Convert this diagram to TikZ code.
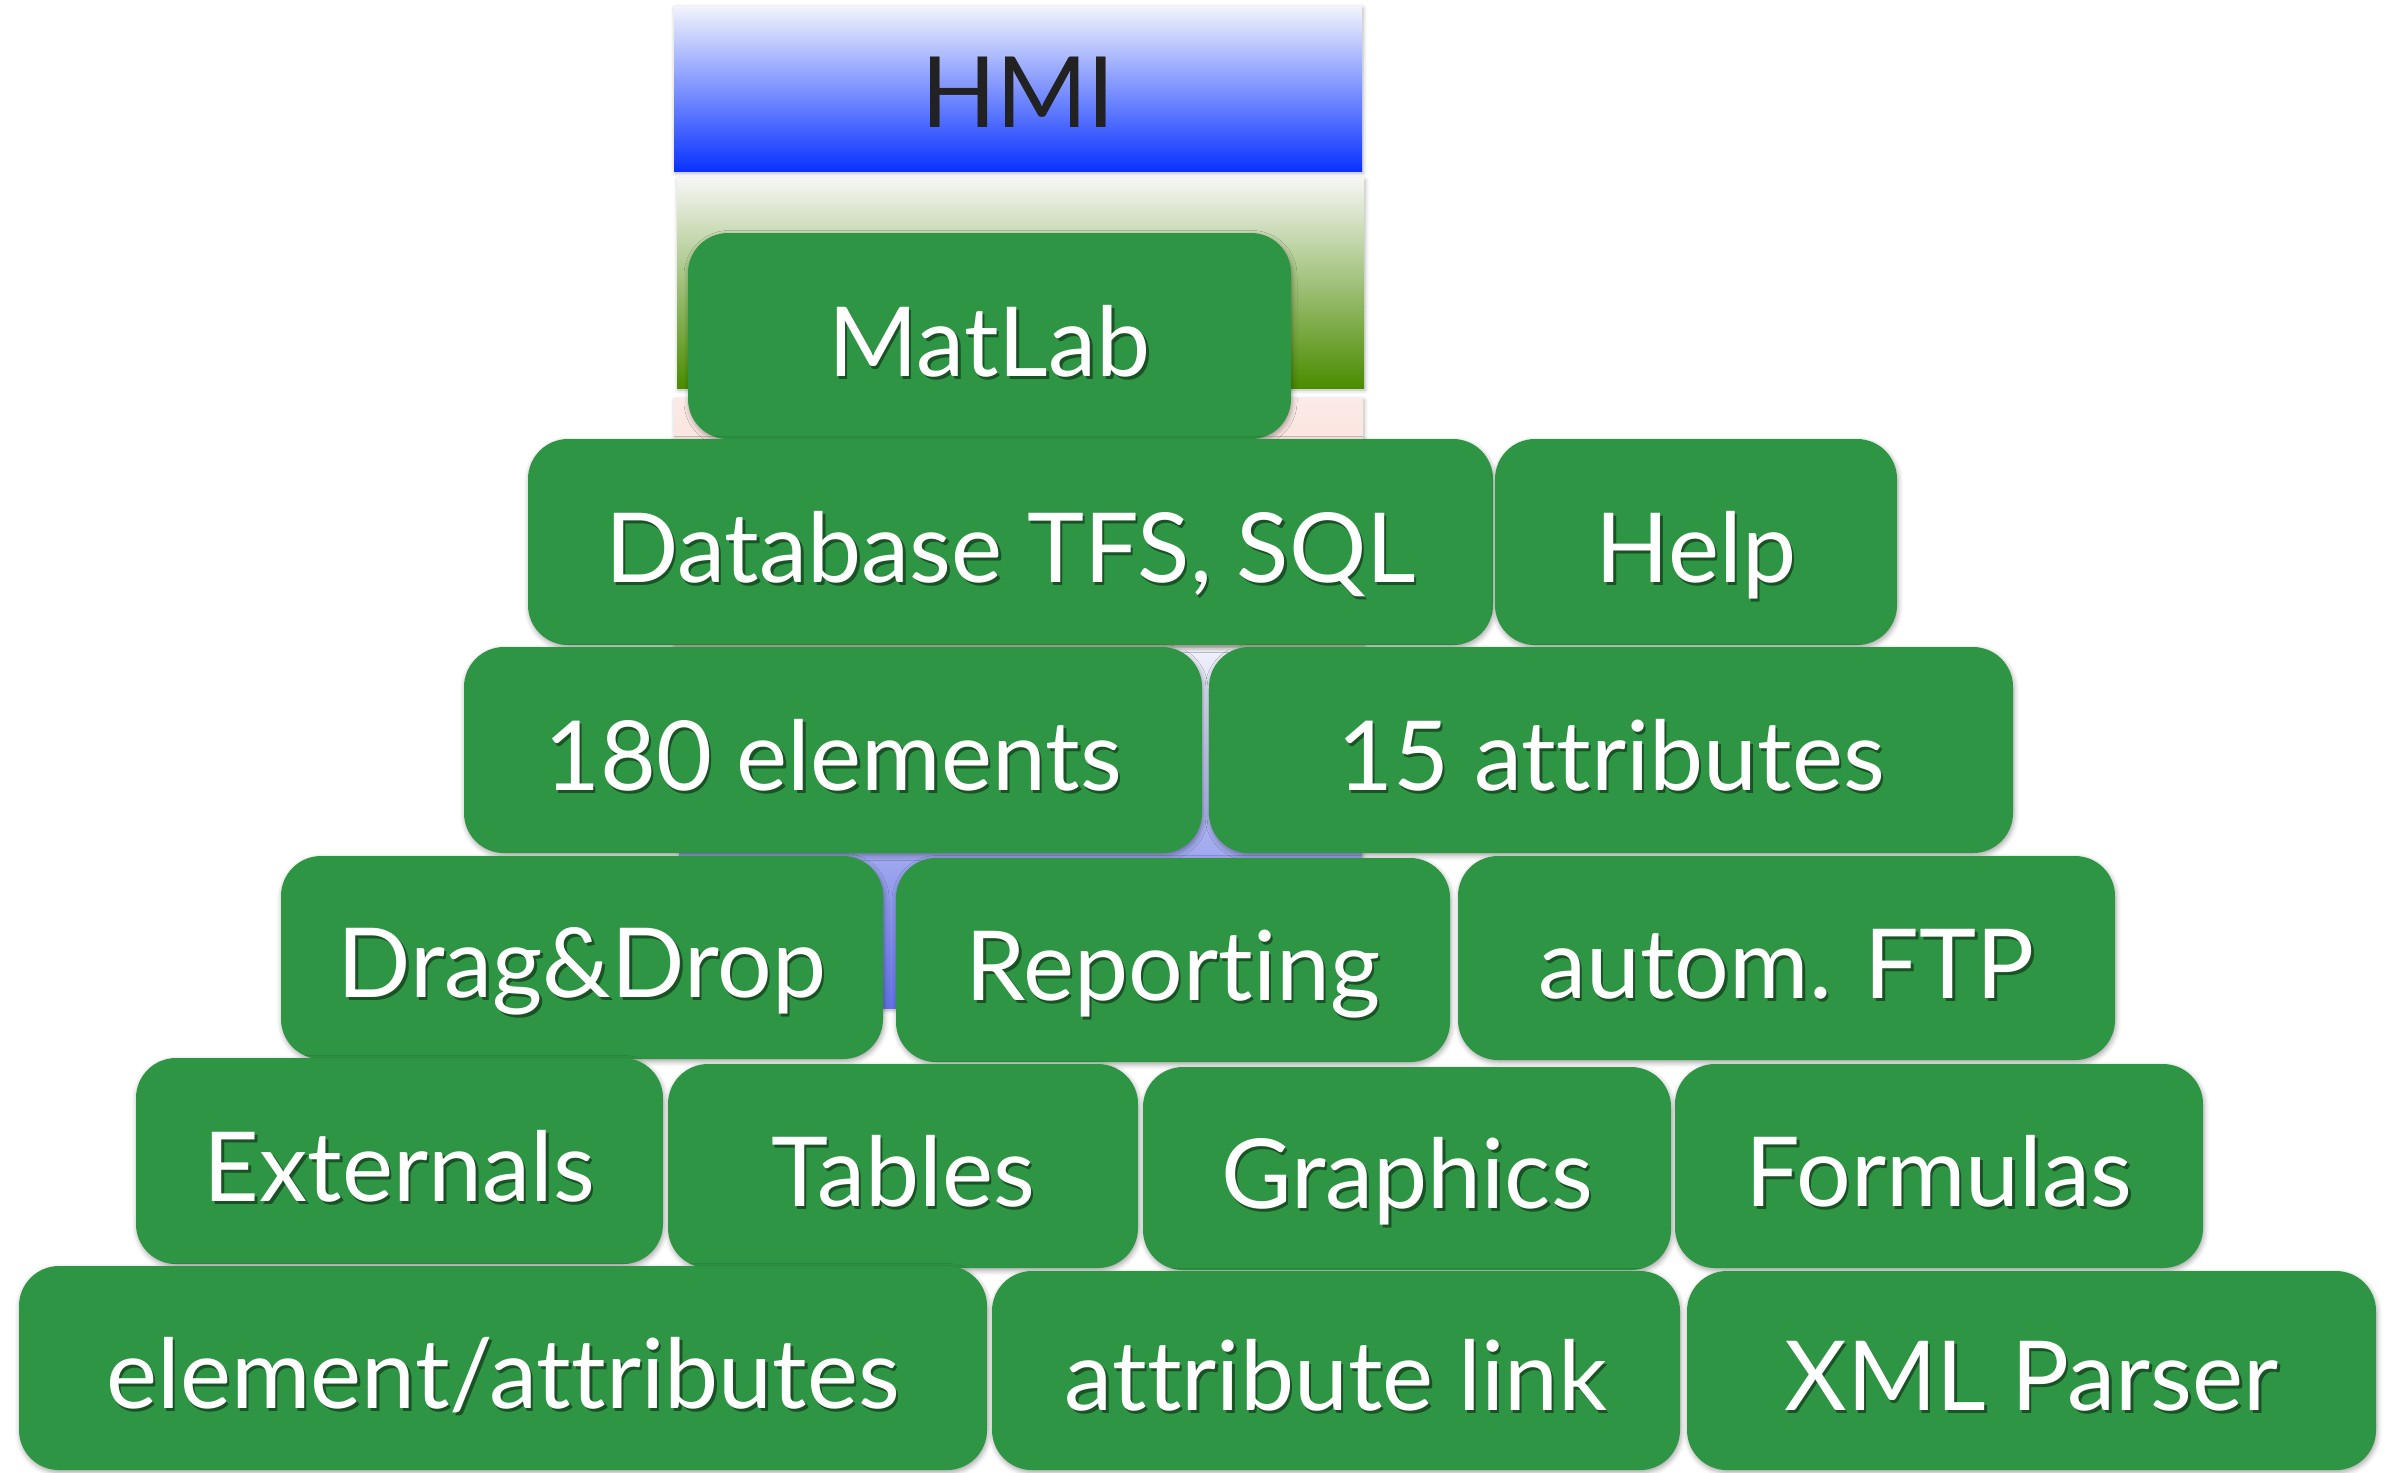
\documentclass[tikz,border=0pt]{standalone}
\usepackage{fontspec}
\setmainfont{Lato}[Ligatures=NoCommon]
\usetikzlibrary{shadows.blur}
\definecolor{brickgreen}{RGB}{46,149,68}
\definecolor{hmitop}{RGB}{242,244,252}
\definecolor{hmimid}{RGB}{140,160,255}
\definecolor{hmibot}{RGB}{10,50,255}
\definecolor{olivetop}{RGB}{246,246,244}
\definecolor{olivemid}{RGB}{190,215,160}
\definecolor{olivebot}{RGB}{74,140,0}
\definecolor{pinktop}{RGB}{252,234,230}
\definecolor{pinkbot}{RGB}{246,205,196}
\definecolor{lavtop}{RGB}{240,240,250}
\definecolor{lavbot}{RGB}{100,115,230}

\begin{document}
\begin{tikzpicture}[x=0.02cm, y=-0.02cm,
    bricksize/.style 2 args={minimum width=#1*0.02cm, minimum height=#2*0.02cm},
    layer/.style={inner sep=0pt,
        blur shadow={shadow xshift=0.02cm, shadow yshift=-0.04cm,
            shadow blur radius=0.08cm, shadow opacity=30}},
    brick/.style={fill=brickgreen, rounded corners=0.8cm, inner sep=0pt,
        text=white, font=\fontsize{55}{60}\selectfont,
        text height=1.6cm, text depth=0pt,
        blur shadow={shadow xshift=0.02cm, shadow yshift=-0.05cm,
            shadow blur radius=0.1cm, shadow opacity=35}}]
\newcommand{\embossed}[1]{%
    \makebox[0pt][l]{\hspace{1.4pt}\raisebox{-1.8pt}{%
        \textcolor{brickgreen!55!black}{#1}}}#1}
\useasboundingbox (0,0) rectangle (2392,1472);

% layers behind
\node[layer, bricksize={688}{165}, top color=hmitop, middle color=hmimid,
    bottom color=hmibot, text={rgb,255:red,34;green,34;blue,34},
    font=\fontsize{56}{60}\selectfont, text height=1.54cm, text depth=0pt]
    (hmi) at (1018,88.5) {HMI};
\node[layer, bricksize={687}{210}, top color=olivetop, middle color=olivemid,
    bottom color=olivebot] (greenlayer) at (1020.5,283) {};
\node[layer, bricksize={689}{247}, top color=pinktop,
    bottom color=pinkbot] (pinklayer) at (1018.5,521.5) {};
\node[layer, bricksize={683}{358}, top color=lavtop,
    bottom color=lavbot] (bluelayer) at (1020.5,829) {};

% bricks
\node[brick, bricksize={603}{206}] (matlab) at (989.5,336) {\embossed{MatLab}};
\node[brick, bricksize={965}{206}] (db) at (1010.5,542) {\embossed{Database TFS, SQL}};
\node[brick, bricksize={402}{206}] (help) at (1696,542) {\embossed{Help}};
\node[brick, bricksize={738}{206}] (elems) at (833,750) {\embossed{180 elements}};
\node[brick, bricksize={804}{206}] (attrs) at (1611,750) {\embossed{15 attributes}};
\node[brick, bricksize={602}{203}] (dragdrop) at (582,957.5) {\embossed{Drag\&Drop}};
\node[brick, bricksize={554}{204}] (report) at (1173,960) {\embossed{Reporting}};
\node[brick, bricksize={657}{204}] (ftp) at (1786.5,958) {\embossed{autom. FTP}};
\node[brick, bricksize={527}{206}] (ext) at (399.5,1161) {\embossed{Externals}};
\node[brick, bricksize={470}{204}] (tables) at (903,1166) {\embossed{Tables}};
\node[brick, bricksize={528}{203}] (graphics) at (1407,1168.5) {\embossed{Graphics}};
\node[brick, bricksize={528}{204}] (formulas) at (1939,1166) {\embossed{Formulas}};
\node[brick, bricksize={968}{204}] (elattr) at (503,1368) {\embossed{element/attributes}};
\node[brick, bricksize={688}{199}] (attrlink) at (1336,1370.5) {\embossed{attribute link}};
\node[brick, bricksize={689}{199}] (xml) at (2031.5,1370.5) {\embossed{XML Parser}};
\end{tikzpicture}
\end{document}
